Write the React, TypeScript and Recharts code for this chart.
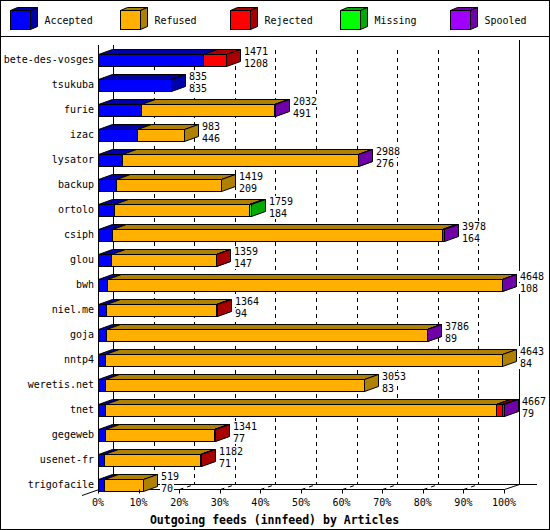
import React from 'react';
import { BarChart, Bar, XAxis, YAxis, Legend, LabelList } from 'recharts';

// innfeed outgoing feeds
const FEEDS = [
  'bete-des-vosges', 'tsukuba', 'furie', 'izac', 'lysator', 'backup', 'ortolo', 'csiph', 'glou',
  'bwh', 'niel.me', 'goja', 'nntp4', 'weretis.net', 'tnet', 'gegeweb', 'usenet-fr', 'trigofacile',
];
const TOTAL = [1471, 835, 2032, 983, 2988, 1419, 1759, 3978, 1359, 4648, 1364, 3786, 4643, 3053, 4667, 1341, 1182, 519];
const ACCEPTED = [1208, 835, 491, 446, 276, 209, 184, 164, 147, 108, 94, 89, 84, 83, 79, 77, 71, 70];
const REFUSED = [0, 0, 1533, 537, 2707, 1210, 1555, 3794, 1204, 4535, 1262, 3692, 4559, 2970, 4496, 1259, 1096, 449];
const REJECTED = [263, 0, 0, 0, 0, 0, 0, 0, 8, 0, 8, 0, 0, 0, 69, 5, 15, 0];
const MISSING = [0, 0, 0, 0, 0, 0, 20, 0, 0, 0, 0, 0, 0, 0, 0, 0, 0, 0];
const SPOOLED = [0, 0, 8, 0, 5, 0, 0, 20, 0, 5, 0, 5, 0, 0, 23, 0, 0, 0];

const PCT_TICKS = [0, 10, 20, 30, 40, 50, 60, 70, 80, 90, 100];
const SCALE_MAX = Math.max(...TOTAL);

const SERIES = [
  { key: 'accepted', name: 'Accepted', front: '#0000ff', dark: '#0000a8' },
  { key: 'refused', name: 'Refused', front: '#ffb000', dark: '#b08000' },
  { key: 'rejected', name: 'Rejected', front: '#ff0000', dark: '#a80000' },
  { key: 'missing', name: 'Missing', front: '#00ff00', dark: '#00a800' },
  { key: 'spooled', name: 'Spooled', front: '#a000ff', dark: '#7000a8' },
];

const TITLE = 'Outgoing feeds (innfeed) by Articles';

const MONO = '"DejaVu Sans Mono", "Liberation Mono", monospace';
const W = 550;
const H = 530;
const LEGEND_H = 38;
const PLOT_LEFT = 98;
const PLOT_RIGHT = 504;
const PLOT_TOP = 46.5;
const BAND = 25;
const BAR = 12;
const FLOOR_Y = PLOT_TOP + BAND * FEEDS.length - (BAND - BAR) / 2 - 0.5; // 490
const WALL_DX = 15;
const WALL_DY = 5;
const BAR_DX = 14;
const BAR_DY = 5;

const data = FEEDS.map((name, i) => ({
  name,
  total: TOTAL[i],
  accepted: ACCEPTED[i],
  refused: REFUSED[i],
  rejected: REJECTED[i],
  missing: MISSING[i],
  spooled: SPOOLED[i],
}));

const crisp = (v: number) => Math.round(v) + 0.5;

const make3D = (front: string, dark: string) => (props: any) => {
  const { x, y, width, height } = props;
  if (!width || width <= 0) return <g />;
  const x1 = crisp(x);
  const x2 = Math.max(x1, crisp(x + width));
  const y1 = crisp(y);
  const y2 = crisp(y + height);
  return (
    <g stroke="#000" strokeWidth={1}>
      <rect x={x1} y={y1} width={x2 - x1} height={y2 - y1} fill={front} />
      <polygon
        points={`${x1},${y1} ${x1 + BAR_DX},${y1 - BAR_DY} ${x2 + BAR_DX},${y1 - BAR_DY} ${x2},${y1}`}
        fill={dark}
      />
      <polygon
        points={`${x2},${y1} ${x2 + BAR_DX},${y1 - BAR_DY} ${x2 + BAR_DX},${y2 - BAR_DY} ${x2},${y2}`}
        fill={dark}
      />
    </g>
  );
};

const valueLabel = (line: number) => (props: any) => {
  const vb = props.viewBox || props;
  const x = Number(props.x ?? vb.x);
  const y = Number(props.y ?? vb.y);
  const width = Number(props.width ?? vb.width) || 0;
  const h = Number(props.height ?? vb.height) || BAR;
  const text = String(props.value);
  const lx = Math.round(x + width) + BAR_DX + 4;
  const base = line === 0 ? Math.round(y) + 1 : Math.round(y + h) + 1;
  return (
    <g>
      <rect x={lx - 1} y={base - 9} width={text.length * 6 + 2} height={11} fill="#fff" />
      <text x={lx} y={base} fontSize={10} fontFamily={MONO} fill="#000">
        {text}
      </text>
    </g>
  );
};

const PctTick = (props: any) => {
  const { x, payload } = props;
  const px = crisp(x);
  const pct = Math.round((payload.value / SCALE_MAX) * 100);
  return (
    <g>
      <line x1={px} y1={FLOOR_Y} x2={px} y2={FLOOR_Y + 4} stroke="#000" />
      <text x={x} y={506} textAnchor="middle" fontSize={10} fontFamily={MONO} fill="#000">
        {pct}%
      </text>
    </g>
  );
};

const renderLegend = () => (
  <svg width={W} height={LEGEND_H} style={{ display: 'block' }}>
    {SERIES.map((s, i) => {
      const x0 = 10.5 + i * 110;
      const y0 = 10.5;
      const fw = 20;
      const fh = 19;
      return (
        <g key={s.key}>
          <g stroke="#000" strokeWidth={1}>
            <rect x={x0} y={y0} width={fw} height={fh} fill={s.front} />
            <polygon points={`${x0},${y0} ${x0 + 7},${y0 - 3} ${x0 + fw + 7},${y0 - 3} ${x0 + fw},${y0}`} fill={s.dark} />
            <polygon
              points={`${x0 + fw},${y0} ${x0 + fw + 7},${y0 - 3} ${x0 + fw + 7},${y0 + fh - 3} ${x0 + fw},${y0 + fh}`}
              fill={s.dark}
            />
          </g>
          <text x={x0 + 34} y={24} fontSize={10} fontFamily={MONO} fill="#000">
            {s.name}
          </text>
        </g>
      );
    })}
  </svg>
);

function Backdrop() {
  const plotW = PLOT_RIGHT - PLOT_LEFT;
  const backFloor = FLOOR_Y - WALL_DY;
  const xs = PCT_TICKS.map((p) => PLOT_LEFT + (plotW * p) / 100);
  return (
    <svg width={W} height={H} style={{ position: 'absolute', left: 0, top: 0 }}>
      <rect x={0.5} y={0.5} width={W - 1} height={H - 1} fill="#fff" stroke="#000" />
      <line x1={0} y1={36.5} x2={W} y2={36.5} stroke="#000" />
      {/* back wall */}
      {xs.map((x, i) => {
        const bx = crisp(x + WALL_DX);
        if (i === 0) return <line key={i} x1={bx} y1={45} x2={bx} y2={backFloor} stroke="#000" />;
        if (i === xs.length - 1) return <line key={i} x1={bx} y1={40} x2={bx} y2={backFloor} stroke="#000" />;
        return (
          <g key={i}>
            <line x1={bx} y1={50} x2={bx} y2={backFloor} stroke="#000" strokeDasharray="4 4" />
            <line
              x1={crisp(x)}
              y1={FLOOR_Y}
              x2={bx}
              y2={backFloor}
              stroke="#000"
              strokeDasharray="4 4"
            />
          </g>
        );
      })}
      {/* floor */}
      <line x1={crisp(PLOT_LEFT)} y1={45} x2={crisp(PLOT_LEFT)} y2={FLOOR_Y} stroke="#000" />
      <line x1={crisp(PLOT_LEFT)} y1={FLOOR_Y} x2={crisp(PLOT_RIGHT)} y2={FLOOR_Y} stroke="#000" />
      <line x1={crisp(PLOT_RIGHT)} y1={FLOOR_Y} x2={crisp(PLOT_RIGHT + WALL_DX)} y2={backFloor} stroke="#000" />
      <line x1={crisp(PLOT_LEFT + WALL_DX)} y1={backFloor} x2={537} y2={backFloor} stroke="#000" />
      <line x1={82} y1={FLOOR_Y + 6} x2={crisp(PLOT_LEFT + WALL_DX)} y2={backFloor} stroke="#000" />
      <text
        x={274.5}
        y={524}
        textAnchor="middle"
        fontSize={11.5}
        fontWeight="bold"
        fontFamily={MONO}
        fill="#000"
      >
        {TITLE}
      </text>
    </svg>
  );
}

export default function App() {
  return (
    <div style={{ position: 'absolute', left: 0, top: 0, width: W, height: H, background: '#fff' }}>
      <Backdrop />
      <div style={{ position: 'absolute', left: 0, top: 0 }}>
        <BarChart
          width={W}
          height={H}
          data={data}
          layout="vertical"
          barSize={BAR}
          margin={{ top: PLOT_TOP - LEGEND_H, right: W - PLOT_RIGHT, bottom: 3.5, left: 8 }}
        >
          <XAxis
            type="number"
            domain={[0, SCALE_MAX]}
            ticks={PCT_TICKS.map((p) => (SCALE_MAX * p) / 100)}
            interval={0}
            axisLine={false}
            tickLine={false}
            height={30}
            tick={<PctTick />}
          />
          <YAxis
            type="category"
            dataKey="name"
            width={PLOT_LEFT - 8}
            axisLine={false}
            tickLine={false}
            tickSize={0}
            tickMargin={4}
            interval={0}
            tick={{ fontSize: 10, fontFamily: MONO, fill: '#000' }}
          />
          <Legend
            verticalAlign="top"
            content={renderLegend}
            wrapperStyle={{ left: 0, top: 0, width: W, height: LEGEND_H }}
          />
          {SERIES.map((s, i) => (
            <Bar
              key={s.key}
              dataKey={s.key}
              name={s.name}
              stackId="feeds"
              fill={s.front}
              shape={make3D(s.front, s.dark)}
              isAnimationActive={false}
            >
              {i === SERIES.length - 1 && <LabelList dataKey="total" content={valueLabel(0)} />}
              {i === SERIES.length - 1 && <LabelList dataKey="accepted" content={valueLabel(1)} />}
            </Bar>
          ))}
        </BarChart>
      </div>
    </div>
  );
}
